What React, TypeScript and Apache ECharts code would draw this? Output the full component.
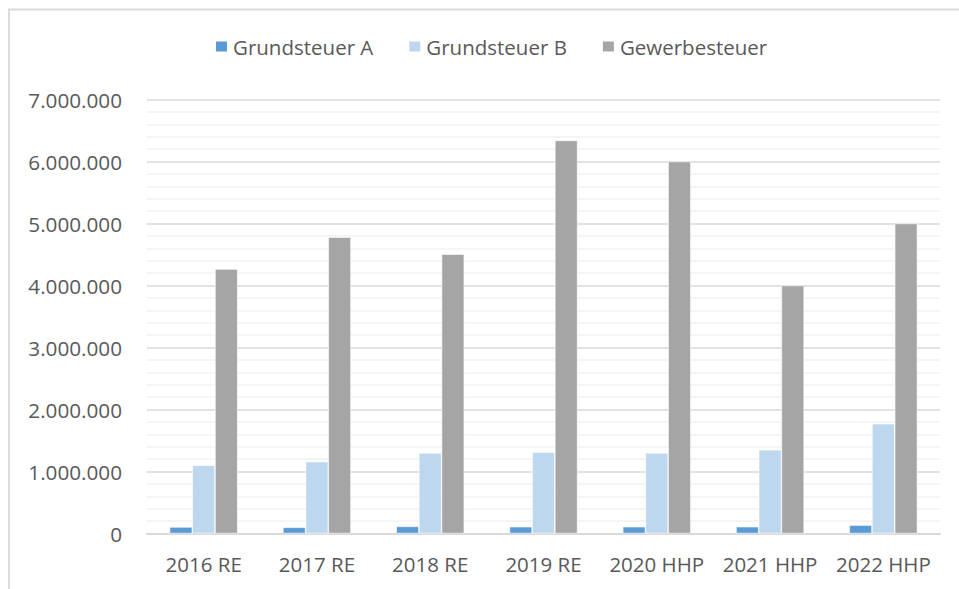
import React, { useEffect, useRef } from "react";
import * as echarts from "echarts";

const categories = ["2016 RE", "2017 RE", "2018 RE", "2019 RE", "2020 HHP", "2021 HHP", "2022 HHP"];
const grundsteuerA = [105000, 100000, 115000, 110000, 110000, 110000, 135000];
const grundsteuerB = [1100000, 1160000, 1300000, 1310000, 1300000, 1350000, 1770000];
const gewerbesteuer = [4265000, 4780000, 4505000, 6340000, 6000000, 4000000, 5000000];
const seriesNames = ["Grundsteuer A", "Grundsteuer B", "Gewerbesteuer"];

const FONT = "'Open Sans', 'Noto Sans', sans-serif";
const TXT = "#595959";

function fmt(v: number): string {
  return String(Math.round(v)).replace(/\B(?=(\d{3})+(?!\d))/g, ".");
}

export default function App() {
  const ref = useRef<HTMLDivElement>(null);
  useEffect(() => {
    if (!ref.current) return;
    const chart = echarts.init(ref.current, undefined, { renderer: "svg" });
    const barCommon = {
      type: "bar" as const,
      barWidth: 22.7,
      barGap: "0%",
      itemStyle: { borderColor: "#ffffff", borderWidth: 0.6 },
    };
    chart.setOption({
      animation: false,
      backgroundColor: "#ffffff",
      textStyle: { fontFamily: FONT },
      graphic: [
        {
          type: "rect",
          shape: { x: 9, y: 9.5, width: 1200, height: 1200 },
          style: { fill: "none", stroke: "#d9d9d9", lineWidth: 1.8 },
          silent: true,
          z: -10,
        },
      ],
      legend: {
        left: 214,
        top: 36,
        padding: 0,
        itemWidth: 13,
        itemHeight: 12,
        itemGap: 34,
        icon: "rect",
        textStyle: { color: TXT, fontSize: 20.5, fontFamily: FONT },
        data: seriesNames,
      },
      grid: { left: 147, right: 19, top: 99.5, bottom: 55.5, containLabel: false },
      xAxis: {
        type: "category",
        data: categories,
        axisLine: { show: true, lineStyle: { color: "#d9d9d9", width: 2 } },
        axisTick: { show: false },
        axisLabel: { color: TXT, fontSize: 20.5, fontFamily: FONT, margin: 20, interval: 0 },
        splitLine: { show: false },
      },
      yAxis: {
        type: "value",
        min: 0,
        max: 7000000,
        interval: 1000000,
        axisLine: { show: false },
        axisTick: { show: false },
        axisLabel: {
          color: TXT,
          fontSize: 20.7,
          fontFamily: FONT,
          margin: 25,
          formatter: (v: number) => fmt(v),
        },
        splitLine: { show: true, lineStyle: { color: "#d9d9d9", width: 1.5 } },
        minorTick: { show: false, splitNumber: 5 },
        minorSplitLine: { show: true, lineStyle: { color: "#f2f2f2", width: 1.5 } },
      },
      series: [
        { ...barCommon, name: seriesNames[0], data: grundsteuerA, itemStyle: { ...barCommon.itemStyle, color: "#5b9bd5" } },
        { ...barCommon, name: seriesNames[1], data: grundsteuerB, itemStyle: { ...barCommon.itemStyle, color: "#bdd7ee" } },
        { ...barCommon, name: seriesNames[2], data: gewerbesteuer, itemStyle: { ...barCommon.itemStyle, color: "#a5a5a5" } },
      ],
    });
    return () => chart.dispose();
  }, []);
  return (
    <div
      ref={ref}
      style={{ position: "fixed", left: 0, top: 0, width: 959, height: 589, background: "#fff" }}
    />
  );
}
